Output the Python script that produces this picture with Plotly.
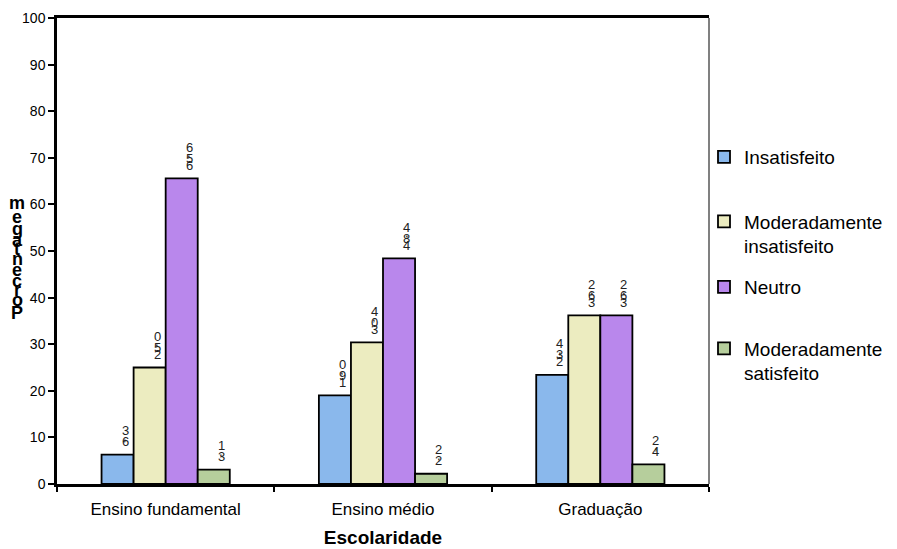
import plotly.graph_objects as go

categories = ["Ensino fundamental", "Ensino médio", "Graduação"]
series_names = ["Insatisfeito", "Moderadamente insatisfeito", "Neutro", "Moderadamente satisfeito"]
legend_labels = ["Insatisfeito", "Moderadamente<br>insatisfeito", "Neutro", "Moderadamente<br>satisfeito"]
insatisfeito = [6.3, 19.0, 23.4]
mod_insatisfeito = [25.0, 30.4, 36.2]
neutro = [65.6, 48.4, 36.2]
mod_satisfeito = [3.1, 2.2, 4.2]
values = [insatisfeito, mod_insatisfeito, neutro, mod_satisfeito]
colors = ["#8AB8EC", "#ECECC0", "#B987EC", "#B6CE9C"]
y_ticks = [0, 10, 20, 30, 40, 50, 60, 70, 80, 90, 100]
y_title = "Porcentagem"
x_title = "Escolaridade"

FONT = "Liberation Sans, Arial, sans-serif"
# the page body adds an 8px offset; compensate so the plot sits where the reference has it
OFF = 8
W, H = 897 - OFF, 549 - OFF
ML, MR, MT, MB = 57 - OFF, 188, 18 - OFF, 65
PW, PH = W - ML - MR, H - MT - MB
PLOT_TOP_PAGE, PLOT_LEFT_PAGE = 18, 57
BARGAP = 0.41

fig = go.Figure()
legend_pix_y = [157, 234, 287, 361]  # page pixel centres of legend items
for i, (name, vals) in enumerate(zip(series_names, values)):
    lg = "legend" if i == 0 else f"legend{i+1}"
    fig.add_trace(go.Bar(
        x=categories, y=vals, name=legend_labels[i],
        marker=dict(color=colors[i], line=dict(color="black", width=1.8)),
        legend=lg,
    ))

layout_legends = {}
for i, py in enumerate(legend_pix_y):
    key = "legend" if i == 0 else f"legend{i+1}"
    layout_legends[key] = dict(
        x=(704 - PLOT_LEFT_PAGE) / PW, xanchor="left",
        y=(PLOT_TOP_PAGE + PH - py) / PH, yanchor="middle",
        font=dict(family=FONT, size=19, color="black"),
        bgcolor="rgba(0,0,0,0)", itemwidth=30, valign="top",
        tracegroupgap=0,
    )

annotations = []
# stacked value labels (upright glyphs along a rotated baseline)
fs = 13
nser = len(values)
bw = (1 - BARGAP) / nser
for s, vals in enumerate(values):
    for c, v in enumerate(vals):
        label = f"{v:.1f}".replace(".", ",")
        xpos = c - (1 - BARGAP) / 2 + (s + 0.5) * bw
        pos = 9.4
        for ch in label:
            adv = (0.278 if ch == "," else 0.556) * fs
            annotations.append(dict(
                x=xpos, y=v, xref="x", yref="y", text=ch, showarrow=False,
                xanchor="center", yanchor="middle", xshift=7.5,
                yshift=pos + adv / 2,
                font=dict(family=FONT, size=fs, color="#222222"),
            ))
            pos += adv

# y-axis title drawn as stacked upright glyphs
bold_adv = {"P": .667, "o": .611, "r": .389, "c": .556, "e": .556, "n": .611,
            "t": .333, "a": .556, "g": .611, "m": .889}
adv_scale = 19.8
pos = 0
centers = []
for ch in y_title:
    a = bold_adv.get(ch, .556) * adv_scale
    centers.append(pos + a / 2)
    pos += a
bottom_center_px = 313
for ch, cpos in zip(y_title, centers):
    off = cpos - centers[0]
    annotations.append(dict(
        x=0, y=(PLOT_TOP_PAGE + PH - bottom_center_px) / PH, xref="paper", yref="paper",
        text=f"<b>{ch}</b>", showarrow=False, xanchor="center", yanchor="middle",
        xshift=-40, yshift=off, borderpad=0,
        font=dict(family=FONT, size=18, color="black"),
    ))

fig.update_layout(
    width=W, height=H, autosize=False,
    margin=dict(l=ML, r=MR, t=MT, b=MB, pad=0, autoexpand=False),
    paper_bgcolor="white", plot_bgcolor="white",
    barmode="group", bargap=BARGAP, bargroupgap=0,
    font=dict(family=FONT, color="black"),
    showlegend=True,
    annotations=annotations,
    shapes=[dict(type="line", xref="paper", yref="paper", x0=1, x1=1, y0=0, y1=1,
                 line=dict(color="#808080", width=2))],
    **layout_legends,
)
fig.update_xaxes(
    type="category", showline=True, linecolor="black", linewidth=2.5,
    mirror=True, ticks="outside", ticklen=5, tickcolor="black", tickwidth=1.5,
    tickson="boundaries", ticklabelstandoff=8, showgrid=False, automargin=False,
    tickfont=dict(family=FONT, size=17, color="black"),
    title=dict(text=f"<b>{x_title}</b>", font=dict(family=FONT, size=19, color="black"), standoff=13),
)
fig.update_yaxes(
    range=[0, 100], tickvals=y_ticks, showline=True, linecolor="black", linewidth=2.5,
    ticks="outside", ticklen=6, tickcolor="black", tickwidth=1.5, showgrid=False,
    zeroline=False, automargin=False, tickfont=dict(family=FONT, size=14, color="black"),
)
fig.write_html("out.html")
